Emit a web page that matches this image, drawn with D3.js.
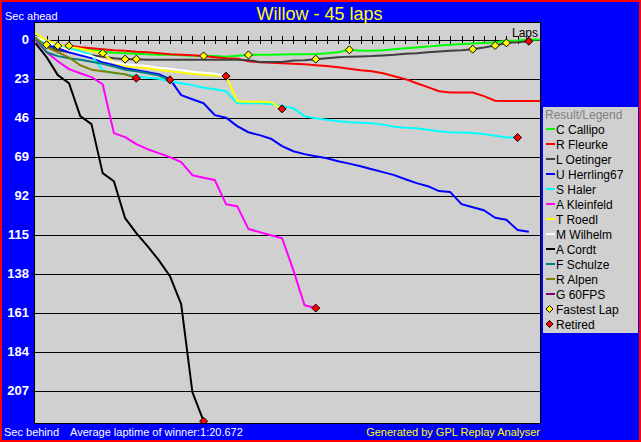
<!DOCTYPE html>
<html><head><meta charset="utf-8">
<script src="https://cdn.jsdelivr.net/npm/d3@7"></script>
<style>html,body{margin:0;padding:0;background:#0000FF;}svg{display:block;}</style>
</head><body>
<svg id="chart" width="641" height="442"></svg>
<script>
// ---- data (seconds behind the winner's average pace, per lap; negative = ahead) ----
const title = "Willow - 45 laps";
const drivers = ["C Callipo","R Fleurke","L Oetinger","U Herrling67","S Haler","A Kleinfeld","T Roedl","M Wilhelm","A Cordt","F Schulze","R Alpen","G 60FPS"];
const colors = ["#00FF00","#FF0000","#404040","#0000FF","#00FFFF","#FF00FF","#FFFF00","#FFFFFF","#000000","#008080","#808000","#800080"];
const callipo = [-1.4,1.6,3.4,4.5,5.4,6.3,7.2,7.8,8.1,8.4,8.7,9.0,9.0,9.3,9.6,9.7,9.8,10.1,9.6,9.1,9.0,9.0,8.8,8.7,8.7,8.5,8.1,7.5,6.1,6.6,6.7,6.3,5.7,5.1,4.7,4.2,3.5,3.1,2.6,2.3,2.0,1.6,0.8,0.6,0.2,0];
const fleurke = [-1.9,3.1,3.7,3.7,4.5,5.1,5.7,6.3,6.6,7.2,7.5,8.1,8.7,9.0,9.3,9.8,10.4,11.0,11.4,12.8,13.4,13.7,14.0,14.3,14.6,15.2,15.7,16.3,17.2,18.1,18.7,19.9,21.7,23.4,25.8,28.1,30.5,31.3,31.3,31.3,33.4,36.1,36.2,36.2,36.2,36.2];
const oetinger = [-1.9,4.0,6.3,7.5,8.4,9.3,10.1,11.0,11.6,11.6,11.9,11.9,11.9,11.9,11.9,11.9,11.9,11.9,12.0,12.2,13.2,13.2,13.2,12.4,12.2,11.6,11.0,10.4,10.1,10.0,9.8,9.4,9.0,8.4,8.1,7.5,7.1,6.7,6.4,5.7,4.7,3.5,2.0,1.6,1.0];
const herrling = [-2.5,2.8,5.1,7.5,9.3,11.0,13.4,15.2,16.9,18.1,19.3,20.5,23.4,32.8,35.2,37.6,44.6,46.1,51.1,54.7,56.4,58.5,62.9,65.9,67.6,68.8,70.0,71.8,73.2,74.7,76.5,78.2,80.0,82.4,84.7,86.5,89.4,90.0,97.1,98.9,100.7,105.1,106.3,112.4,113.4];
const haler = [-0.8,2.2,3.9,5.1,6.9,9.3,18.1,19.9,20.5,21.6,22.5,23.1,24.6,25.8,26.9,28.4,29.3,30.5,37.6,37.6,37.6,38.1,39.3,40.5,45.2,46.4,47.3,48.2,48.8,49.1,49.4,50.2,51.4,52.0,52.3,53.2,54.1,54.7,54.9,55.2,55.8,56.7,57.8,57.8];
const kleinfeld = [0.4,7.5,12.8,17.5,19.9,22.2,26.4,55.2,57.6,61.7,64.7,67.0,69.4,72.3,80.0,81.5,82.9,97.1,98.3,111.8,113.6,115.4,117.2,136.0,156.7,158.4];
const roedl = [-3.7,0.4,2.8,4.2,5.4,6.9,8.1,13.4,15.7,16.3,16.9,17.8,18.7,19.3,20.2,20.8,21.3,21.6,36.4,36.7,36.7,37.0,40.9];
const wilhelm = [-1.9,1.6,3.9,6.3,8.1,9.8,12.2,13.4,14.6,15.2,15.7,16.6,17.2,18.1,19.0,19.6,20.2,21.6];
const cordt = [2.2,10.4,21.0,25.8,45.2,49.9,78.8,83.6,105.4,114.2,121.9,130.1,139.6,156.1,208.0,225.1];
const schulze = [-0.8,7.5,9.8,11.0,11.9,13.1,14.3,16.0,17.8,18.7,19.9,21.3,23.8];
const alpen = [-1.4,4.5,7.5,10.7,15.2,17.8,18.7,19.6,20.5,22.8];
const fps60 = [];
const seriesValues = [callipo,fleurke,oetinger,herrling,haler,kleinfeld,roedl,wilhelm,cordt,schulze,alpen,fps60];
const retiredDrivers = ["L Oetinger","S Haler","A Kleinfeld","T Roedl","M Wilhelm","A Cordt","F Schulze","R Alpen"];
const fastestLapDrivers = ["R Fleurke","R Fleurke","R Fleurke","T Roedl","L Oetinger","L Oetinger","C Callipo","C Callipo","L Oetinger","C Callipo","L Oetinger","L Oetinger","L Oetinger"];
const fastestLapLaps = [1,2,3,6,8,9,15,19,25,28,39,41,42];
const yTicks = [0,23,46,69,92,115,138,161,184,207];
const totalLaps = 45;
const lapTicks = d3.range(1,44);
const avgLap = "Average laptime of winner:1:20.672";

// ---- drawing ----
const svg = d3.select("#chart");
const W = 641, H = 442;
const P = {l:34.5, t:22.5, r:540.5, b:423.5};
svg.append("rect").attr("x",1).attr("y",1).attr("width",W-2).attr("height",H-2)
  .attr("fill","#0000FF").attr("stroke","#FF0000").attr("stroke-width",2);

const x = d3.scaleLinear().domain([0,totalLaps]).range([35.4,540]);
const y = d3.scaleLinear().domain([0,207]).range([39.5,390.5]);

svg.append("rect").attr("x",P.l).attr("y",P.t).attr("width",P.r-P.l).attr("height",P.b-P.t)
  .attr("fill","#D0D0D0").attr("stroke","#000").attr("stroke-width",1);

// y axis with gridlines
const yAxis = d3.axisLeft(y).tickValues(yTicks).tickSize(-(P.r-P.l)-3).tickPadding(5);
const gy = svg.append("g").attr("transform",`translate(${P.l-3+0.5+3},0)`).call(yAxis);
gy.select(".domain").remove();
gy.selectAll(".tick line").attr("x1",-3).attr("x2",P.r-P.l).attr("stroke","#000").attr("shape-rendering","crispEdges");
gy.selectAll(".tick text").attr("fill","#FFF").attr("font-family","Arial, 'Liberation Sans', sans-serif")
  .attr("font-size","13px").attr("font-weight","bold").attr("x",-6);

// lap ticks along zero line
const gx = svg.append("g").attr("transform",`translate(0,${y(0)})`)
  .call(d3.axisTop(x).tickValues(lapTicks).tickSize(4).tickFormat(""));
gx.select(".domain").remove();
gx.selectAll(".tick line").attr("y1",-4).attr("y2",4).attr("stroke","#000").attr("shape-rendering","crispEdges");
svg.append("text").attr("x",538).attr("y",37).attr("text-anchor","end").attr("fill","#000")
  .attr("font-family","Arial, 'Liberation Sans', sans-serif").attr("font-size","12px").text("Laps");

// clip
svg.append("clipPath").attr("id","clip").append("rect").attr("x",P.l+0.5).attr("y",P.t+0.5)
  .attr("width",P.r-P.l-1).attr("height",P.b-P.t-1);
const plot = svg.append("g").attr("clip-path","url(#clip)");

const line = d3.line().x((d,i)=>x(i)).y(d=>y(d));
drivers.forEach((name,k)=>{
  const vals = seriesValues[k];
  if (vals.length < 2) return;
  plot.append("path").datum(vals).attr("d",line).attr("fill","none")
    .attr("stroke",colors[k]).attr("stroke-width",2).attr("stroke-linejoin","round");
});

function diamond(g, cx, cy, fill, r){
  g.append("path").attr("d",`M${cx},${cy-r}L${cx+r},${cy}L${cx},${cy+r}L${cx-r},${cy}Z`)
    .attr("fill",fill).attr("stroke","#000").attr("stroke-width",1);
}
fastestLapDrivers.forEach((name,i)=>{
  const k = drivers.indexOf(name), lap = fastestLapLaps[i];
  diamond(plot, x(lap), y(seriesValues[k][lap]), "#FFFF00", 4);
});
retiredDrivers.forEach(name=>{
  const k = drivers.indexOf(name), vals = seriesValues[k];
  diamond(plot, x(vals.length-1), y(vals[vals.length-1]), "#FF0000", 4);
});

// title & labels
const font = "Arial, 'Liberation Sans', sans-serif";
svg.append("text").attr("x",319.5).attr("y",20).attr("text-anchor","middle").attr("fill","#FFFF00")
  .attr("font-family",font).attr("font-size","18px").text(title);
svg.append("text").attr("x",5).attr("y",20).attr("fill","#FFF").attr("font-family",font).attr("font-size","11px").text("Sec ahead");
svg.append("text").attr("x",4).attr("y",436).attr("fill","#FFF").attr("font-family",font).attr("font-size","11px").text("Sec behind");
svg.append("text").attr("x",70).attr("y",436).attr("fill","#FFF").attr("font-family",font).attr("font-size","11px").text(avgLap);
svg.append("text").attr("x",540).attr("y",436).attr("text-anchor","end").attr("fill","#FFFF00").attr("font-family",font).attr("font-size","11px").text("Generated by GPL Replay Analyser");

// legend
const lg = svg.append("g");
lg.append("rect").attr("x",543).attr("y",107).attr("width",95).attr("height",226).attr("fill","#D0D0D0");
lg.append("text").attr("x",545).attr("y",119).attr("fill","#808080").attr("font-family",font).attr("font-size","12px").text("Result/Legend");
drivers.forEach((name,i)=>{
  const cy = 129 + 15*i;
  lg.append("line").attr("x1",546).attr("x2",555).attr("y1",cy).attr("y2",cy).attr("stroke",colors[i]).attr("stroke-width",2);
  lg.append("text").attr("x",556).attr("y",cy+4.5).attr("fill","#000").attr("font-family",font).attr("font-size","12px").text(name);
});
const extra = [["Fastest Lap","#FFFF00"],["Retired","#FF0000"]];
extra.forEach((e,j)=>{
  const cy = 129 + 15*(drivers.length+j);
  diamond(lg, 549.5, cy, e[1], 3.5);
  lg.append("text").attr("x",556).attr("y",cy+4.5).attr("fill","#000").attr("font-family",font).attr("font-size","12px").text(e[0]);
});
</script>
</body></html>
